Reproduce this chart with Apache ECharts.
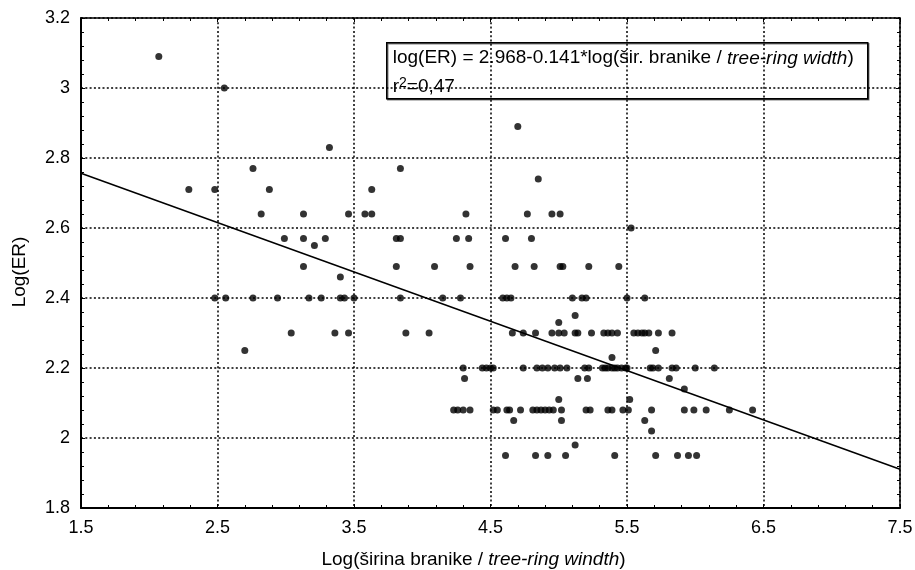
<!DOCTYPE html>
<html>
<head>
<meta charset="utf-8">
<script src="https://cdn.jsdelivr.net/npm/echarts@6/dist/echarts.min.js"></script>
<style>
html,body{margin:0;padding:0;background:#fff;}
#c{width:915px;height:570px;}
</style>
</head>
<body>
<div id="c"></div>
<script>
// ---- data ----
var xValues = [
  2.07, 2.55, 4.70, 3.32, 2.76, 3.84, 4.85,
  2.29, 2.48, 2.88, 3.63,
  2.82, 3.13, 3.46, 3.58, 3.63, 4.32, 4.77, 4.95, 5.01,
  5.53,
  2.99, 3.13, 3.29, 3.81, 3.84, 4.25, 4.34, 4.61, 4.80,
  3.21,
  3.13, 3.81, 4.09, 4.35, 4.68, 4.82, 5.01, 5.03, 5.22, 5.44,
  3.40,
  2.48, 2.56, 2.76, 2.94, 3.17, 3.26, 3.40, 3.43, 3.50, 3.84, 4.15, 4.28, 4.59, 4.62, 4.65, 5.10, 5.17, 5.20, 5.50, 5.63,
  5.12, 5.00,
  3.04, 3.36, 3.46, 3.88, 4.05, 4.66, 4.74, 4.83, 4.95, 5.00, 5.04, 5.12, 5.14, 5.24, 5.33, 5.36, 5.39, 5.43, 5.55, 5.58, 5.61, 5.63, 5.66, 5.73, 5.83,
  2.70, 5.71, 5.39,
  4.30, 4.44, 4.47, 4.50, 4.52, 4.74, 4.84, 4.88, 4.92, 4.97, 5.01, 5.06, 5.19, 5.22, 5.32, 5.34, 5.36, 5.39, 5.41, 5.43, 5.46, 5.49, 5.50, 5.67, 5.69, 5.73, 5.83, 5.86, 6.00, 6.14,
  4.31, 5.14, 5.21, 5.81,
  5.92, 5.00, 5.52,
  4.23, 4.26, 4.30, 4.35, 4.52, 4.55, 4.62, 4.64, 4.72, 4.81, 4.84, 4.87, 4.90, 4.93, 4.96, 5.02, 5.20, 5.23, 5.36, 5.39, 5.47, 5.51, 5.68, 5.92, 5.99, 6.08, 6.25, 6.42,
  4.67, 5.02, 5.63, 5.68, 5.12,
  4.61, 4.83, 4.92, 5.05, 5.41, 5.71, 5.87, 5.95, 6.01
];
var yValues = [
  3.09, 3.00, 2.89, 2.83, 2.77, 2.77, 2.74,
  2.71, 2.71, 2.71, 2.71,
  2.64, 2.64, 2.64, 2.64, 2.64, 2.64, 2.64, 2.64, 2.64,
  2.60,
  2.57, 2.57, 2.57, 2.57, 2.57, 2.57, 2.57, 2.57, 2.57,
  2.55,
  2.49, 2.49, 2.49, 2.49, 2.49, 2.49, 2.49, 2.49, 2.49, 2.49,
  2.46,
  2.40, 2.40, 2.40, 2.40, 2.40, 2.40, 2.40, 2.40, 2.40, 2.40, 2.40, 2.40, 2.40, 2.40, 2.40, 2.40, 2.40, 2.40, 2.40, 2.40,
  2.35, 2.33,
  2.30, 2.30, 2.30, 2.30, 2.30, 2.30, 2.30, 2.30, 2.30, 2.30, 2.30, 2.30, 2.30, 2.30, 2.30, 2.30, 2.30, 2.30, 2.30, 2.30, 2.30, 2.30, 2.30, 2.30, 2.30,
  2.25, 2.25, 2.23,
  2.20, 2.20, 2.20, 2.20, 2.20, 2.20, 2.20, 2.20, 2.20, 2.20, 2.20, 2.20, 2.20, 2.20, 2.20, 2.20, 2.20, 2.20, 2.20, 2.20, 2.20, 2.20, 2.20, 2.20, 2.20, 2.20, 2.20, 2.20, 2.20, 2.20,
  2.17, 2.17, 2.17, 2.17,
  2.14, 2.11, 2.11,
  2.08, 2.08, 2.08, 2.08, 2.08, 2.08, 2.08, 2.08, 2.08, 2.08, 2.08, 2.08, 2.08, 2.08, 2.08, 2.08, 2.08, 2.08, 2.08, 2.08, 2.08, 2.08, 2.08, 2.08, 2.08, 2.08, 2.08, 2.08,
  2.05, 2.05, 2.05, 2.02, 1.98,
  1.95, 1.95, 1.95, 1.95, 1.95, 1.95, 1.95, 1.95, 1.95
];
var regIntercept = 2.968;
var regSlope = -0.141;
var xRange = [1.5, 7.5];
var yRange = [1.8, 3.2];
var xTickLabels = ['1.5', '2.5', '3.5', '4.5', '5.5', '6.5', '7.5'];
var yTickLabels = ['1.8', '2', '2.2', '2.4', '2.6', '2.8', '3', '3.2'];
var eqLine = 'log(ER) = 2.968-0.141*log(šir. branike / ';
var eqItalic = 'tree-ring width';
var r2Parts = ['r', '2', '=0,47'];
var xName = ['Log(širina branike / ', 'tree-ring windth', ')'];
var yName = 'Log(ER)';

// ---- build ----
var points = xValues.map(function (x, i) { return [x, yValues[i]]; });
var regLine = xRange.map(function (x) { return [x, regIntercept + regSlope * x]; });

var FONT = 'Liberation Sans, Arial, sans-serif';
var chart = echarts.init(document.getElementById('c'), null, {renderer: 'canvas'});

var gridDash = {color: '#000', width: 1.5, type: [2, 2.3]};

chart.setOption({
  animation: false,
  backgroundColor: '#fff',
  grid: {left: 81, right: 15, top: 18, bottom: 62, containLabel: false, outerBoundsMode: 'none'},
  xAxis: [{
    type: 'value', min: xRange[0], max: xRange[1], interval: 1,
    name: '{n|' + xName[0] + '}{i|' + xName[1] + '}{n|' + xName[2] + '}',
    nameLocation: 'middle', nameGap: 42,
    nameTextStyle: {
      padding: [0, 34, 0, 0],
      rich: {
        n: {fontFamily: FONT, fontSize: 19, color: '#000'},
        i: {fontFamily: FONT, fontSize: 19, color: '#000', fontStyle: 'italic'}
      }
    },
    axisLine: {show: true, onZero: false, lineStyle: {color: '#000', width: 2}},
    axisTick: {show: true, inside: true, length: 4, lineStyle: {color: '#000'}},
    minorTick: {show: true, splitNumber: 5, length: 3, lineStyle: {color: '#000'}},
    axisLabel: {
      fontFamily: FONT, fontSize: 18, color: '#000', margin: 11,
      formatter: function (v) {
        var i = Math.round(v - xRange[0]);
        return xTickLabels[i] !== undefined ? xTickLabels[i] : '';
      }
    },
    splitLine: {show: true, lineStyle: gridDash}
  }, {
    type: 'value', min: xRange[0], max: xRange[1], interval: 1, position: 'top',
    axisLine: {show: true, onZero: false, lineStyle: {color: '#000', width: 1.5}},
    axisTick: {show: true, inside: true, length: 4, lineStyle: {color: '#000'}},
    minorTick: {show: true, splitNumber: 5, length: 3, lineStyle: {color: '#000'}},
    axisLabel: {show: false},
    splitLine: {show: false}
  }],
  yAxis: [{
    type: 'value', min: yRange[0], max: yRange[1], interval: 0.2,
    name: yName, nameLocation: 'middle', nameGap: 52, nameRotate: 90,
    nameTextStyle: {fontFamily: FONT, fontSize: 19, color: '#000', padding: [0, 18, 0, 0]},
    axisLine: {show: true, onZero: false, lineStyle: {color: '#000', width: 2}},
    axisTick: {show: true, inside: true, length: 4, lineStyle: {color: '#000'}},
    minorTick: {show: true, splitNumber: 5, length: 3, lineStyle: {color: '#000'}},
    axisLabel: {
      fontFamily: FONT, fontSize: 18, color: '#000', margin: 11,
      formatter: function (v) {
        var i = Math.round((v - yRange[0]) / 0.2);
        return yTickLabels[i] !== undefined ? yTickLabels[i] : '';
      }
    },
    splitLine: {show: true, lineStyle: gridDash}
  }, {
    type: 'value', min: yRange[0], max: yRange[1], interval: 0.2, position: 'right',
    axisLine: {show: true, onZero: false, lineStyle: {color: '#000', width: 1.5}},
    axisTick: {show: true, inside: true, length: 4, lineStyle: {color: '#000'}},
    minorTick: {show: true, splitNumber: 5, length: 3, lineStyle: {color: '#000'}},
    axisLabel: {show: false},
    splitLine: {show: false}
  }],
  graphic: [{
    type: 'group', left: 386, top: 42, z: 100,
    children: [{
      type: 'rect',
      shape: {x: 0, y: 0, width: 481, height: 56},
      style: {fill: '#fff', stroke: '#000', lineWidth: 1.5,
        shadowColor: 'rgba(0,0,0,0.5)', shadowOffsetX: 1, shadowOffsetY: 1, shadowBlur: 0}
    }, {
      type: 'text', x: 6, y: 1,
      style: {
        text: '{n|' + eqLine + '}{i|' + eqItalic + '}{n|)}\n{n|' + r2Parts[0] + '}{sup|' + r2Parts[1] + '}{n|' + r2Parts[2] + '}',
        rich: {
          n: {fontFamily: FONT, fontSize: 19, fill: '#000', lineHeight: 29},
          i: {fontFamily: FONT, fontSize: 19, fill: '#000', fontStyle: 'italic', lineHeight: 29},
          sup: {fontFamily: FONT, fontSize: 14, fill: '#000', lineHeight: 14, verticalAlign: 'top', padding: [3, 0, 0, 0]}
        }
      }
    }]
  }],
  series: [{
    type: 'scatter', xAxisIndex: 0, yAxisIndex: 0,
    data: points, symbol: 'circle', symbolSize: 7,
    itemStyle: {color: '#000'}, z: 5
  }, {
    type: 'line', xAxisIndex: 0, yAxisIndex: 0,
    data: regLine, showSymbol: false, symbol: 'none',
    lineStyle: {color: '#000', width: 1.5}, z: 4
  }]
});
</script>
</body>
</html>
